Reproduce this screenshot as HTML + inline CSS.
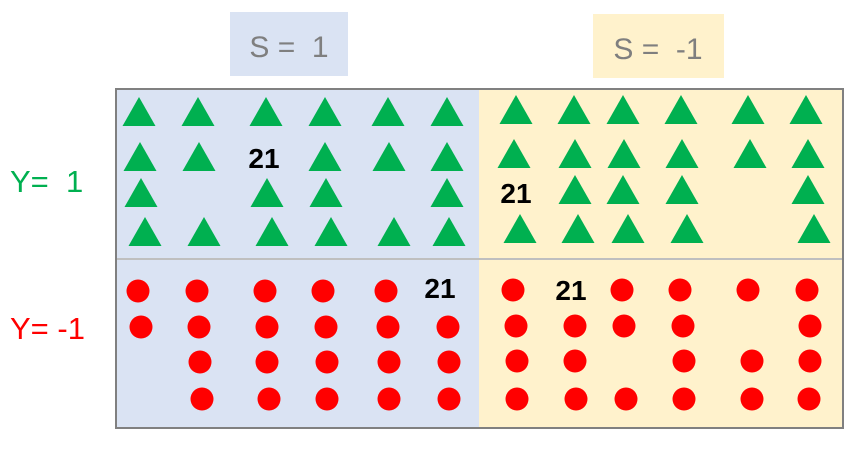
<!DOCTYPE html>
<html><head><meta charset="utf-8"><style>
html,body{margin:0;padding:0;background:#fff;width:862px;height:462px;overflow:hidden}
</style></head><body>
<svg width="862" height="462" xmlns="http://www.w3.org/2000/svg" font-family="Liberation Sans, sans-serif">
<rect x="230" y="12" width="118" height="64" fill="#dae3f3"/>
<rect x="593" y="14" width="131" height="64" fill="#fff2cc"/>
<text x="289" y="57" font-size="30" fill="#7f7f7f" text-anchor="middle" xml:space="preserve">S =  1</text>
<text x="658" y="59" font-size="30" fill="#7f7f7f" text-anchor="middle" xml:space="preserve">S =  -1</text>
<text x="10" y="192" font-size="31" fill="#00b050" xml:space="preserve">Y=  1</text>
<text x="10" y="339" font-size="31" fill="#ff0000" xml:space="preserve">Y= -1</text>
<rect x="117" y="90" width="362" height="338" fill="#dae3f3"/>
<rect x="479" y="90" width="364" height="338" fill="#fff2cc"/>
<line x1="117" y1="259" x2="843" y2="259" stroke="#bfbfbf" stroke-width="2"/>
<rect x="116" y="89" width="727" height="339" fill="none" stroke="#808080" stroke-width="2"/>
<g fill="#00b050" id="tri"></g>
<g fill="#ff0000" id="cir"></g>
<g font-size="28" font-weight="bold" fill="#000" text-anchor="middle">
<text x="264" y="168">21</text>
<text x="516" y="203">21</text>
<text x="440" y="298">21</text>
<text x="571" y="300">21</text>
</g>
<script>
var T=[[97,[139,198,266,325,388,447]],[142,[140,199,325,389,447]],[178,[141,267,326,447]],[217,[145,204,272,331,394,449]],
[95,[516,574,623,681,748,806]],[139,[514,575,624,682,750,808]],[175,[575,623,682,808]],[214,[520,578,628,687,814]]];
var C=[[291,[138,197,265,323,386]],[327,[141,199,267,326,388,448]],[362,[200,267,327,389,449]],[399,[202,269,327,389,449]],
[290,[513,622,680,748,807]],[326,[516,575,624,683,810]],[361,[517,575,684,752,810]],[399,[517,576,626,684,752,809]]];
var ns="http://www.w3.org/2000/svg",g=document.getElementById('tri'),h=document.getElementById('cir');
T.forEach(function(r){r[1].forEach(function(x){var p=document.createElementNS(ns,'polygon');
p.setAttribute('points',(x-16.5)+','+(r[0]+29)+' '+x+','+r[0]+' '+(x+16.5)+','+(r[0]+29));g.appendChild(p);});});
C.forEach(function(r){r[1].forEach(function(x){var c=document.createElementNS(ns,'ellipse');
c.setAttribute('cx',x);c.setAttribute('cy',r[0]);c.setAttribute('rx',11.5);c.setAttribute('ry',11.5);h.appendChild(c);});});
</script>
</svg>
</body></html>
